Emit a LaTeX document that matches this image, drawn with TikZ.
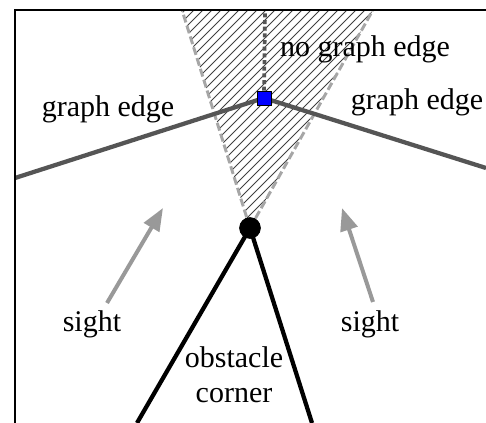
\documentclass[tikz,border=0pt]{standalone}
\usepackage{fontspec}
\setmainfont{Liberation Serif}
\usetikzlibrary{arrows.meta}
\definecolor{edgegray}{HTML}{555555}
\definecolor{sightgray}{HTML}{999999}
\definecolor{conegray}{HTML}{A6A6A6}

\begin{document}
\begin{tikzpicture}[x=0.75pt,y=-0.75pt,
      lbl/.style={font=\fontsize{22.5}{26}\selectfont,anchor=base,inner sep=0pt},
      graphedge/.style={draw=edgegray,line width=3.2pt},
      wall/.style={draw=black,line width=3.2pt},
      sightarrow/.style={draw=sightgray,line width=3pt,-{Triangle[length=17pt,width=13pt,fill=sightgray]}},
      conebound/.style={draw=conegray,line width=2.2pt,dash pattern=on 6pt off 2.5pt}]
    \useasboundingbox (0,0) rectangle (486,423);
    % hatched cone above the corner
    \begin{scope}
      \clip (250,228) -- (182,10) -- (373,10) -- cycle;
      \foreach \c in {186,195,...,486}{
        \draw[line width=0.6pt,black!75] (\c-240,240) -- (\c,0);
      }
    \end{scope}
    \coordinate (ltop) at (182,10);
    \coordinate (rtop) at (373,10);
    \coordinate (vtop) at (265,10);
    \coordinate (eleft) at (15,178);
    \coordinate (eright) at (486,168);
    \coordinate (wleft) at (137,423);
    \coordinate (wright) at (312,423);
    \node[circle,fill=black,minimum size=16pt,inner sep=0pt] (corner) at (250,228) {};
    \draw[conebound] (corner.center) -- (ltop);
    \draw[conebound] (corner.center) -- (rtop);
    % graph edges
    \node[minimum size=10.5pt,inner sep=0pt] (vertex) at (264,98) {};
    \draw[graphedge] (eleft) -- (vertex.center);
    \draw[graphedge] (vertex.center) -- (eright);
    \draw[edgegray,line width=2.8pt,dash pattern=on 3pt off 2pt] (vertex) -- (vtop);
    \node[draw=black,fill=blue,minimum size=10.5pt,inner sep=0pt,line width=0.5pt] at (vertex) {};
    % obstacle
    \draw[wall] (corner.center) -- (wleft);
    \draw[wall] (corner.center) -- (wright);
    \node[circle,fill=black,minimum size=16pt,inner sep=0pt] at (corner) {};
    % lines of sight
    \coordinate (sl0) at (107,303);
    \coordinate (sl1) at (163,208);
    \coordinate (sr0) at (373,302);
    \coordinate (sr1) at (342,208);
    \draw[sightarrow] (sl0) -- (sl1);
    \draw[sightarrow] (sr0) -- (sr1);
    % labels
    \node[lbl] (edgelblA) at (108,117) {graph edge};
    \node[lbl] (edgelblB) at (417,110) {graph edge};
    \node[lbl] (noedgelbl) at (365,57) {no graph edge};
    \node[lbl] (sightlblA) at (92,332) {sight};
    \node[lbl] (sightlblB) at (370,332) {sight};
    \node[font=\fontsize{22.5}{26}\selectfont,align=center,inner sep=0pt] (cornerlbl) at (234,375) {obstacle\\corner};
    % frame
    \draw[line width=2.2pt] (15,423) -- (15,10) -- (486,10);
  \end{tikzpicture}
\end{document}
